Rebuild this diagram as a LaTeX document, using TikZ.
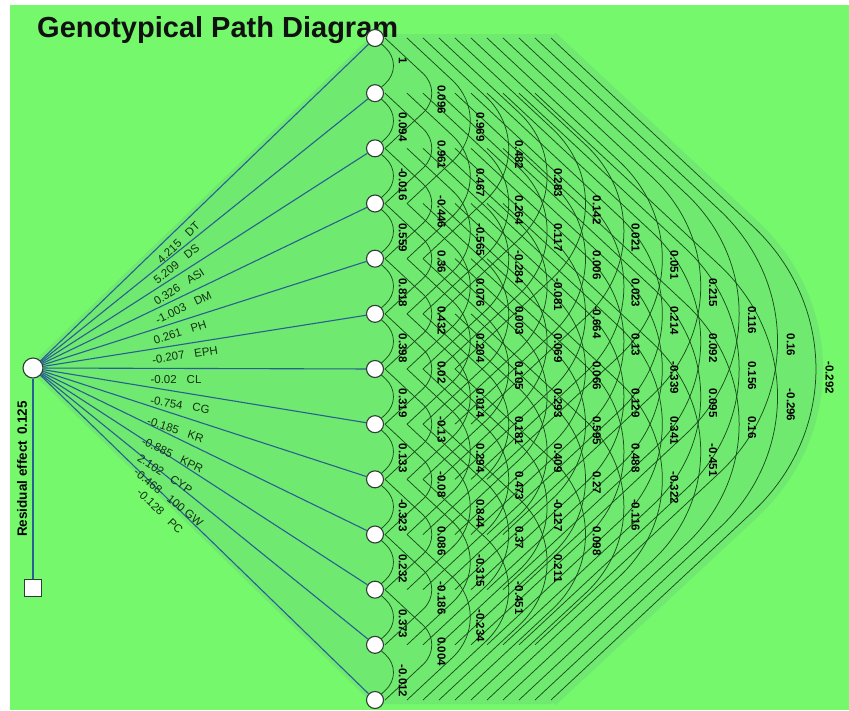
\documentclass[tikz,border=0pt]{standalone}
\usepackage{fontspec}
\setmainfont{Liberation Sans}
\usetikzlibrary{calc}
\definecolor{bggreen}{RGB}{117,248,108}
\definecolor{arcgreen}{RGB}{111,233,111}
\definecolor{fanblue}{RGB}{40,96,145}
\definecolor{arcline}{RGB}{26,78,30}
\definecolor{labtext}{RGB}{20,48,20}
\definecolor{nodeedge}{RGB}{45,62,52}
\pgfdeclarelayer{back}
\pgfdeclarelayer{arcs}
\pgfsetlayers{back,arcs,main}
\newcommand{\corrrow}[2]{%
  \foreach \v [count=\i] in {#2} {%
    \pgfmathtruncatemacro\j{\i+#1}%
    \node[corr] (r\i-\j) at ($(n\i.center)!0.5!(n\j.center)+({38.8*#1-11},-8)$) {\v};%
  }}
\begin{document}
\begin{tikzpicture}[x=1pt,y=-1pt,
  vnode/.style={circle,draw=nodeedge,fill=white,line width=1.1pt,minimum size=17pt,inner sep=0pt},
  lnode/.style={circle,draw=nodeedge,fill=white,line width=1.1pt,minimum size=20pt,inner sep=0pt},
  resbox/.style={rectangle,draw=nodeedge,fill=white,line width=1.1pt,minimum size=17pt,inner sep=0pt},
  fan/.style={draw=fanblue,line width=1.1pt},
  arcpath/.style={draw=arcline,line width=0.75pt},
  corr/.style={rotate=-90,anchor=west,inner sep=0pt,font=\bfseries\fontsize{11.5}{12}\selectfont,text=black},
  fanlab/.style={inner sep=0pt,font=\fontsize{11.5}{12}\selectfont,text=labtext},
]
\useasboundingbox (0,0) rectangle (849,710);

% title (under the top node)
\node[anchor=base west,inner sep=0pt,font=\bfseries\fontsize{29}{30}\selectfont,text={rgb,255:red,17;green,17;blue,17}] (title) at (37,37) {Genotypical Path Diagram};

% nodes
\foreach \i in {1,...,13} \node[vnode] (n\i) at (375,{38+55.1667*(\i-1)}) {};
\node[lnode] (L) at (33,368) {};
\node[resbox] (S) at (33,588) {};
\node[rotate=90,inner sep=0pt,font=\bfseries\fontsize{13.5}{14}\selectfont] (res) at (22,469) {Residual effect\hspace{6pt}0.125};

\begin{pgfonlayer}{back}
  \fill[white] (0,0) rectangle (849,710);
  \fill[bggreen] (10,5) rectangle (849,710);
  \path[fill=arcgreen,draw=arcgreen,line width=14pt,line join=round,rounded corners=210pt]
    ($(n1.center)+(176,0)$) -- ($(n7.center)+(531,0)$) -- ($(n13.center)+(176,0)$);
  \path[fill=arcgreen,draw=arcgreen,line width=8pt,line join=round]
    (L.center) -- (n1.center) -- ($(n1.center)+(176,0)$) -- ($(n13.center)+(176,0)$) -- (n13.center) -- cycle;
\end{pgfonlayer}

\begin{pgfonlayer}{arcs}
  \foreach \i in {1,...,13} \draw[fan] (L) -- (n\i);
  \draw[fan] (L) -- (S);
  \foreach \k in {1,...,12}{
    \pgfmathsetmacro\s{ifthenelse(\k==1,0,ifthenelse(\k==2,10,32+16*(\k-3)))}
    \pgfmathsetmacro\ha{27.5833*\k}
    \pgfmathsetmacro\xv{\s+\ha/0.9325}
    \pgfmathsetmacro\ap{38.3*\k-20}
    \pgfmathsetmacro\rr{(\xv-\ap)/0.46628}
    \pgfmathsetmacro\dd{\rr/0.9325}
    \pgfmathtruncatemacro\last{13-\k}
    \foreach \i in {1,...,\last}{
      \pgfmathtruncatemacro\j{\i+\k}
      \draw[arcpath,rounded corners=\dd pt] ($(n\i.center)+(\s,0)$) -- ($(n\i.center)!0.5!(n\j.center)+(\xv,0)$) -- ($(n\j.center)+(\s,0)$);
    }
  }
\end{pgfonlayer}

% path coefficient labels
\foreach \i/\cx/\cy/\ang/\txt in {
  1/178.5/242.5/44/{4.215\hspace{10pt}DT},
  2/176.5/264/38.8/{5.209\hspace{10pt}DS},
  3/179/287/32.7/{0.326\hspace{10pt}ASI},
  4/183.5/307.5/25.7/{-1.003\hspace{10pt}DM},
  5/180/332.5/17.7/{0.261\hspace{10pt}PH},
  6/185/355/9/{-0.207\hspace{10pt}EPH},
  7/176/380/0/{-0.02\hspace{10pt}CL},
  8/180/405/-9.3/{-0.754\hspace{10pt}CG},
  9/175.5/430/-18/{-0.185\hspace{10pt}KR},
  10/172.5/455/-26/{-0.885\hspace{10pt}KPR},
  11/165/474/-32.9/{2.102\hspace{10pt}CYP},
  12/168.5/497.5/-39/{-0.468\hspace{10pt}100 GW},
  13/160/511/-44.2/{-0.128\hspace{10pt}PC}}
  \node[fanlab,rotate=\ang] (f\i) at (\cx,\cy) {\txt};

% correlation labels
\corrrow{1}{1,0.094,-0.016,0.559,0.818,0.398,0.319,0.133,-0.323,0.232,0.373,-0.012}
\corrrow{2}{0.096,0.961,-0.446,0.36,0.432,0.02,-0.13,-0.08,0.086,-0.186,0.004}
\corrrow{3}{0.969,0.467,-0.565,0.076,0.204,0.014,0.294,0.844,-0.315,-0.234}
\corrrow{4}{0.482,0.264,-0.284,0.003,0.105,0.181,0.473,0.37,-0.451}
\corrrow{5}{0.283,0.117,-0.081,0.069,0.293,0.409,-0.127,0.211}
\corrrow{6}{0.142,0.006,-0.664,0.066,0.595,0.27,0.098}
\corrrow{7}{0.021,0.023,0.13,0.129,0.488,-0.116}
\corrrow{8}{0.051,0.214,-0.339,0.341,-0.322}
\corrrow{9}{0.215,0.092,0.095,-0.451}
\corrrow{10}{0.116,0.156,0.16}
\corrrow{11}{0.16,-0.296}
\corrrow{12}{-0.292}
\end{tikzpicture}
\end{document}
